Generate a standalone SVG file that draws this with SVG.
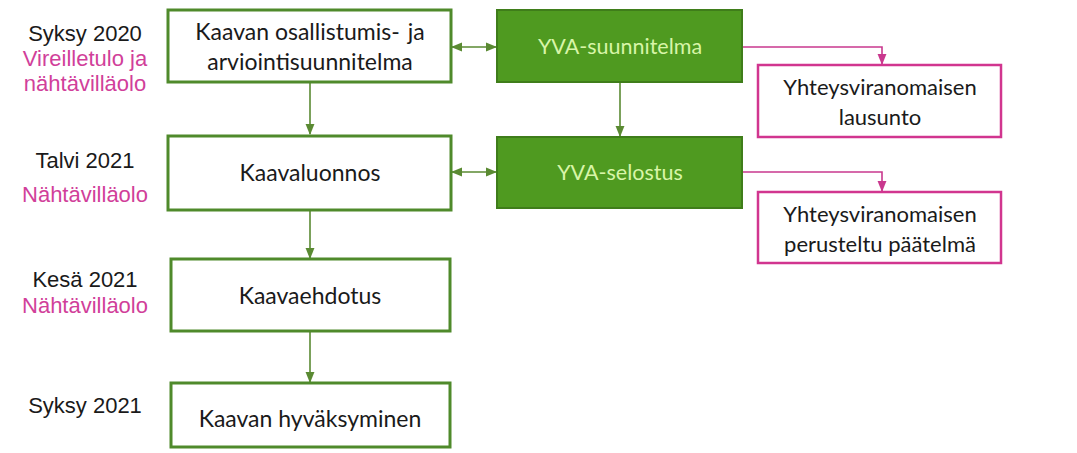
<svg xmlns="http://www.w3.org/2000/svg" width="1077" height="453" viewBox="0 0 1077 453">
<defs>
<style>
text{font-family:Lato,"Open Sans","Liberation Sans",sans-serif;font-size:23px;text-anchor:middle}
.side{font-family:"Liberation Sans",Arial,sans-serif;font-size:22px}
.lbl{fill:#1a1a1a}
.pk{fill:#d13f9a}
.wb{fill:#fff;stroke:#4f8a2b;stroke-width:3}
.gb{fill:#4f9a20;stroke:#3f7d1a;stroke-width:2}
.pb{fill:#fff;stroke:#d1358f;stroke-width:2.5}
.gt{fill:#d8f5a8;font-size:21.5px}
.pt{font-size:22px}
.gl{fill:none;stroke:#5a8a32;stroke-width:1.6}
.pl{fill:none;stroke:#c9388e;stroke-width:1.6}
</style>
<marker id="ga" viewBox="0 0 10 10" refX="9" refY="5" markerWidth="7" markerHeight="7" orient="auto-start-reverse"><path d="M0,1 L10,5 L0,9 z" fill="#5a8a32"/></marker>
<marker id="pa" viewBox="0 0 10 10" refX="9" refY="5" markerWidth="7" markerHeight="7" orient="auto"><path d="M0,1 L10,5 L0,9 z" fill="#c9388e"/></marker>
</defs>
<rect width="1077" height="453" fill="#fff"/>
<g id="labels">
<text class="side lbl" x="85" y="41">Syksy 2020</text>
<text class="side pk" x="85" y="66">Vireilletulo ja</text>
<text class="side pk" x="85" y="91">nähtävilläolo</text>
<text class="side lbl" x="85" y="168">Talvi 2021</text>
<text class="side pk" x="85" y="202">Nähtävilläolo</text>
<text class="side lbl" x="85" y="287">Kesä 2021</text>
<text class="side pk" x="85" y="313">Nähtävilläolo</text>
<text class="side lbl" x="85" y="413">Syksy 2021</text>
</g>
<g id="connectors">
<path class="gl" d="M310,82 V134" marker-end="url(#ga)"/>
<path class="gl" d="M310,210 V258" marker-end="url(#ga)"/>
<path class="gl" d="M310,331 V382" marker-end="url(#ga)"/>
<path class="gl" d="M620,82 V136" marker-end="url(#ga)"/>
<path class="gl" d="M452,47 H496" marker-start="url(#ga)" marker-end="url(#ga)"/>
<path class="gl" d="M452,172 H496" marker-start="url(#ga)" marker-end="url(#ga)"/>
<path class="pl" d="M742,47 H882 V64" marker-end="url(#pa)"/>
<path class="pl" d="M742,172 H882 V191" marker-end="url(#pa)"/>
</g>
<g id="n1"><rect class="wb" x="168" y="10" width="283" height="72"/>
<text class="lbl" x="310" y="40">Kaavan osallistumis-<tspan dx="8">ja</tspan></text>
<text class="lbl" x="310" y="70">arviointisuunnitelma</text></g>
<g id="n2"><rect class="wb" x="168" y="136" width="283" height="74"/>
<text class="lbl" x="310" y="181">Kaavaluonnos</text></g>
<g id="n3"><rect class="wb" x="171" y="259" width="279" height="72"/>
<text class="lbl" x="310" y="304">Kaavaehdotus</text></g>
<g id="n4"><rect class="wb" x="171" y="383" width="279" height="64"/>
<text class="lbl" x="310" y="427">Kaavan hyväksyminen</text></g>
<g id="n5"><rect class="gb" x="497" y="10" width="245" height="72"/>
<text class="gt" x="620" y="54">YVA-suunnitelma</text></g>
<g id="n6"><rect class="gb" x="497" y="137" width="245" height="71"/>
<text class="gt" x="620" y="180">YVA-selostus</text></g>
<g id="n7"><rect class="pb" x="758" y="65" width="243" height="72"/>
<text class="lbl pt" x="880" y="95">Yhteysviranomaisen</text>
<text class="lbl pt" x="880" y="125">lausunto</text></g>
<g id="n8"><rect class="pb" x="758" y="192" width="243" height="71"/>
<text class="lbl pt" x="880" y="222">Yhteysviranomaisen</text>
<text class="lbl pt" x="880" y="252">perusteltu päätelmä</text></g>
</svg>
